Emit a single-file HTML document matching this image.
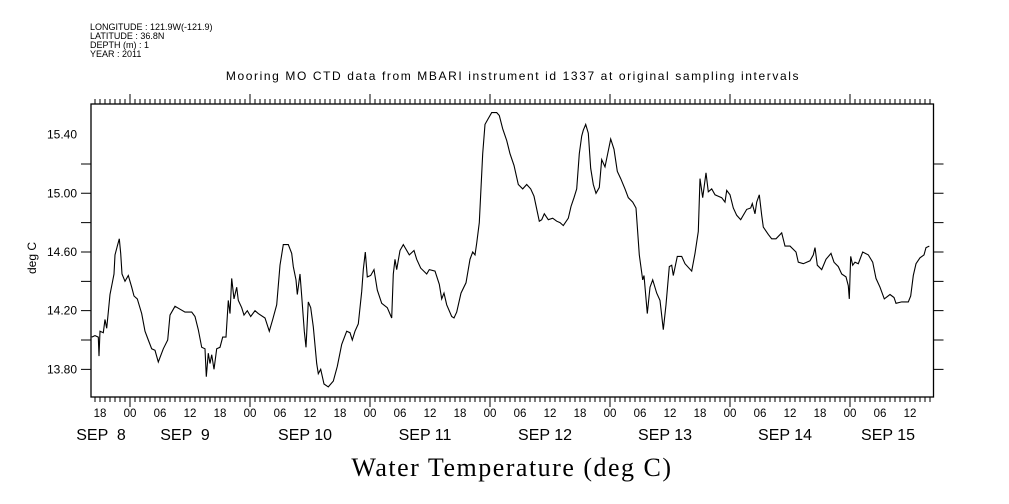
<!DOCTYPE html>
<html><head><meta charset="utf-8"><style>
html,body{margin:0;padding:0;background:#fff;}
svg{display:block;}
text{font-family:"Liberation Sans",sans-serif;fill:#000;}
</style></head><body>
<svg id="chart" width="1009" height="504" viewBox="0 0 1009 504" xmlns="http://www.w3.org/2000/svg">
<g font-size="9">
<text x="90" y="30">LONGITUDE : 121.9W(-121.9)</text>
<text x="90" y="39">LATITUDE : 36.8N</text>
<text x="90" y="48">DEPTH (m) : 1</text>
<text x="90" y="57">YEAR : 2011</text>
</g>
<text x="513" y="80" text-anchor="middle" font-size="12" letter-spacing="1.6">Mooring MO CTD data from MBARI instrument id 1337 at original sampling intervals</text>
<text x="512" y="476" text-anchor="middle" font-size="26" letter-spacing="1.5" style="font-family:'Liberation Serif',serif">Water Temperature (deg C)</text>
<text transform="translate(36,258) rotate(-90)" text-anchor="middle" font-size="12">deg C</text>
<rect x="91" y="104" width="842.5" height="293" fill="none" stroke="#000" stroke-width="1.3"/>
<g id="axes"></g>
<path id="series" fill="none" stroke="#000" stroke-width="1.1"/>
</svg>
<script>
const hours = [16.34,17.0,17.66,17.8,18.0,18.66,19.0,19.34,19.66,20.0,20.46,20.8,21.0,21.46,21.86,22.14,22.4,23.0,23.66,24.34,24.8,25.46,26.34,27.0,27.66,28.34,29.0,29.66,30.66,31.54,32.0,33.0,34.0,35.0,36.34,37.0,37.66,38.34,39.0,39.26,39.66,40.0,40.34,40.8,41.34,42.0,42.54,43.2,43.66,44.0,44.34,44.8,45.34,45.66,46.34,46.8,47.46,48.14,49.0,49.66,51.0,51.86,52.54,53.34,54.0,54.66,55.66,56.34,56.66,57.2,57.46,58.0,58.34,58.86,59.2,59.66,60.14,60.66,61.34,61.66,62.14,62.8,63.66,64.66,65.46,66.34,67.34,68.0,68.46,69.0,69.66,70.34,70.66,71.06,71.46,72.14,72.8,73.46,74.34,75.46,76.34,76.66,77.0,77.34,78.0,78.66,79.86,80.8,81.34,82.14,83.34,83.86,85.0,85.86,86.34,86.8,87.34,88.34,88.8,89.34,90.2,91.2,92.0,92.54,93.0,93.34,93.86,94.54,95.0,95.66,96.34,97.34,97.86,98.54,99.34,100.0,100.8,101.66,102.54,103.34,104.14,104.8,105.86,106.34,106.86,107.66,108.54,109.34,110.0,110.66,111.66,112.2,112.8,113.34,113.86,114.34,114.66,115.14,115.66,116.14,116.66,117.2,117.86,118.34,119.0,119.54,120.14,120.8,121.46,122.14,123.0,123.66,124.54,125.2,125.86,126.54,126.8,127.46,128.0,128.54,129.34,130.0,130.66,131.2,131.86,132.34,132.66,133.46,134.34,135.0,136.34,137.0,137.66,138.0,138.54,139.2,139.66,140.34,141.0,141.66,142.34,143.0,143.34,144.0,144.66,145.34,146.14,147.34,148.14,148.46,149.0,149.34,149.86,150.34,150.66,151.66,152.34,153.2,154.34,155.0,156.0,157.2,157.66,158.66,160.0,160.66,161.0,161.46,162.34,163.2,164.2,164.8,165.66,166.34,167.2,167.66,167.86,168.14,168.54,169.0,169.66,170.54,171.66,172.54,173.2,174.0,174.86,176.0,176.8,177.2,178.34,179.66,180.14,180.66,181.2,182.0,182.8,183.2,183.86];
const temps = [14.02,14.03,14.02,13.89,14.06,14.05,14.14,14.08,14.19,14.31,14.39,14.45,14.58,14.64,14.69,14.59,14.45,14.40,14.44,14.36,14.30,14.28,14.18,14.06,14.00,13.94,13.93,13.85,13.94,14.00,14.17,14.23,14.21,14.19,14.19,14.16,14.07,13.95,13.94,13.75,13.91,13.84,13.90,13.80,13.94,13.95,14.02,14.02,14.27,14.18,14.42,14.28,14.36,14.27,14.22,14.17,14.20,14.16,14.20,14.18,14.15,14.06,14.14,14.24,14.51,14.65,14.65,14.59,14.50,14.41,14.31,14.45,14.30,14.06,13.95,14.26,14.22,14.09,13.84,13.77,13.80,13.70,13.68,13.72,13.82,13.97,14.06,14.05,14.00,14.06,14.11,14.33,14.48,14.60,14.43,14.44,14.48,14.34,14.25,14.22,14.15,14.45,14.55,14.48,14.61,14.65,14.58,14.61,14.55,14.49,14.45,14.48,14.47,14.38,14.28,14.32,14.24,14.16,14.15,14.19,14.32,14.39,14.55,14.60,14.58,14.66,14.80,15.27,15.47,15.51,15.55,15.55,15.53,15.44,15.36,15.27,15.19,15.06,15.03,15.06,15.03,14.98,14.81,14.82,14.86,14.82,14.83,14.81,14.80,14.78,14.83,14.91,14.97,15.03,15.27,15.39,15.43,15.47,15.41,15.17,15.06,15.00,15.04,15.23,15.18,15.27,15.37,15.30,15.15,15.10,15.03,14.97,14.94,14.90,14.58,14.41,14.44,14.18,14.36,14.41,14.32,14.27,14.07,14.24,14.50,14.51,14.44,14.57,14.57,14.52,14.47,14.59,14.74,15.10,14.97,15.14,15.01,15.03,14.99,14.98,14.97,14.94,15.02,14.99,14.90,14.85,14.82,14.89,14.90,14.93,14.86,14.94,14.99,14.85,14.77,14.72,14.69,14.69,14.73,14.64,14.64,14.60,14.53,14.52,14.54,14.58,14.63,14.51,14.48,14.55,14.59,14.53,14.50,14.45,14.43,14.37,14.28,14.57,14.51,14.53,14.52,14.60,14.58,14.53,14.42,14.36,14.28,14.31,14.29,14.25,14.26,14.26,14.30,14.44,14.52,14.56,14.58,14.63,14.64];
const yTickLabels = ["13.80","14.20","14.60","15.00","15.40"];
const hourLabels = ["18","00","06","12"];
const dayNames = ["SEP  8","SEP  9","SEP 10","SEP 11","SEP 12","SEP 13","SEP 14","SEP 15"];

const X0=91, X1=933.5, Y0=104, Y1=397;
function xs(h){ return 10 + h*5; }              // hours since Sep 8 00:00
function ys(v){ return 193.3 - (v-15)*146.7; }
const NS="http://www.w3.org/2000/svg";
const axes=document.getElementById('axes');
function el(tag, attrs, txt){ const e=document.createElementNS(NS,tag); for(const k in attrs) e.setAttribute(k,attrs[k]); if(txt!==undefined) e.textContent=txt; axes.appendChild(e); return e; }

let tp='';
for(let h=Math.ceil((X0-10)/5); xs(h)<=X1; h++){
  const x=xs(h); const len = (h%24===0)?10:5;
  tp+=`M${x} ${Y1}v${len}M${x} ${Y0}v${-len}`;
}
const xt=el('path',{d:tp,stroke:'#000','stroke-width':1,fill:'none'});


let yp='';
for(let i=0;i<=8;i++){ const v=13.6+i*0.2; const y=ys(v); if(y<Y0||y>Y1) continue; yp+=`M${X0-10} ${y}h10M${X1} ${y}h10`; }
const yt=el('path',{d:yp,stroke:'#000','stroke-width':1,fill:'none'});


yTickLabels.forEach(s=>{
  const t=el('text',{x:X0-14,y:ys(parseFloat(s))+4,'text-anchor':'end','font-size':12},s);
  
  
});
for(let h=18; xs(h)<=X1-10; h+=6){
  const t=el('text',{x:xs(h),y:417,'text-anchor':'middle','font-size':11.5},hourLabels[((h%24)/6+1)%4]);
  
  
}
dayNames.forEach((d,i)=>{
  let cx=xs(i*24+12)-5;
  if(i===0) cx=101;
  if(cx>888) cx=888;
  const t=el('text',{x:cx,y:440,'text-anchor':'middle','font-size':16,style:'white-space:pre'},d);
  
  
});
let d='';
hours.forEach((h,i)=>{ d+=(i?'L':'M')+xs(h).toFixed(1)+' '+ys(temps[i]).toFixed(1); });
document.getElementById('series').setAttribute('d',d);
</script>
</body></html>
